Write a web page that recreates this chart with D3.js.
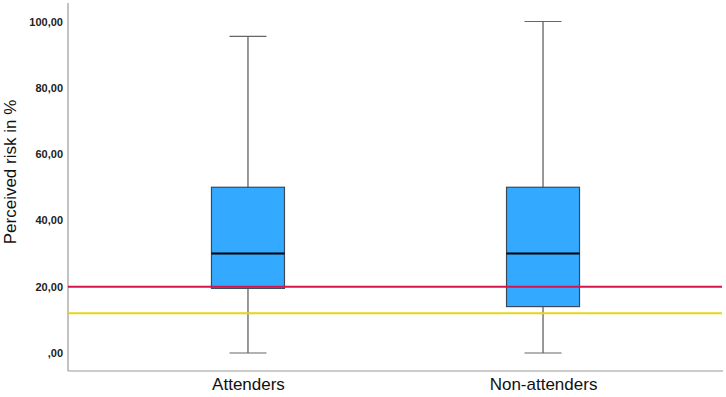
<!DOCTYPE html>
<html>
<head>
<meta charset="utf-8">
<script src="https://cdn.jsdelivr.net/npm/d3@7"></script>
<style>
  body { margin: 0; background: #fff; }
  svg { display: block; }
</style>
</head>
<body>
<div id="chart"></div>
<script>
'use strict'

// data
const groups = ['Attenders', 'Non-attenders']
const whiskerLow = [0, 0]
const boxLow = [19.5, 14]
const medians = [30, 30]
const boxHigh = [50, 50]
const whiskerHigh = [95.5, 100]
const refLines = [20, 12]
const refColors = ['#d4144b', '#e6d41c']
const yTicks = [0, 20, 40, 60, 80, 100]

const svgWidth = 726
const svgHeight = 397
const margin = { left: 68, right: 3, top: 3, bottom: 26 }

const svg = d3.select('#chart').append('svg')
    .attr('width', svgWidth)
    .attr('height', svgHeight)

// scales
const y = d3.scaleLinear().domain([0, 100]).range([353, 21.5])
const x = d3.scalePoint().domain(groups)
    .range([margin.left, svgWidth - margin.right]).padding(0.61)

const boxW = 73
const capW = 37
const fmt = v => d3.format('.2f')(v).replace('.', ',').replace(/^0,/, ',')

// axes
const yAxis = svg.append('g')
    .attr('transform', `translate(${margin.left},0)`)
    .call(d3.axisLeft(y).tickValues(yTicks).tickSize(0).tickPadding(5).tickFormat(fmt))
yAxis.select('.domain').remove()
yAxis.selectAll('text')
    .attr('font-family', 'Liberation Sans, Arial, sans-serif')
    .attr('font-size', 11)
    .attr('font-weight', 'bold')
    .attr('fill', '#222')

const xAxis = svg.append('g')
    .attr('transform', `translate(0,${svgHeight - margin.bottom})`)
    .call(d3.axisBottom(x).tickSize(0).tickPadding(7))
xAxis.select('.domain').remove()
xAxis.selectAll('text')
    .attr('font-family', 'Liberation Sans, Arial, sans-serif')
    .attr('font-size', 17)
    .attr('fill', '#111')

// axis lines
svg.append('line')
    .attr('x1', margin.left).attr('x2', margin.left)
    .attr('y1', margin.top).attr('y2', svgHeight - margin.bottom)
    .attr('stroke', '#999').attr('stroke-width', 1.2)
svg.append('line')
    .attr('x1', margin.left).attr('x2', svgWidth - margin.right)
    .attr('y1', svgHeight - margin.bottom).attr('y2', svgHeight - margin.bottom)
    .attr('stroke', '#999').attr('stroke-width', 1.2)

// y title
svg.append('text')
    .attr('transform', `translate(16,${172}) rotate(-90)`)
    .attr('text-anchor', 'middle')
    .attr('font-family', 'Liberation Sans, Arial, sans-serif')
    .attr('font-size', 17)
    .attr('fill', '#111')
    .text('Perceived risk in %')

// boxes
const boxes = svg.append('g').selectAll('g')
    .data(groups)
    .join('g')

boxes.append('line')
    .attr('x1', d => x(d)).attr('x2', d => x(d))
    .attr('y1', (d, i) => y(whiskerLow[i])).attr('y2', (d, i) => y(whiskerHigh[i]))
    .attr('stroke', '#555').attr('stroke-width', 1.2)

boxes.selectAll('.cap')
    .data((d, i) => [whiskerLow[i], whiskerHigh[i]].map(v => ({ g: d, v })))
    .join('line')
    .attr('class', 'cap')
    .attr('x1', d => x(d.g) - capW / 2).attr('x2', d => x(d.g) + capW / 2)
    .attr('y1', d => y(d.v)).attr('y2', d => y(d.v))
    .attr('stroke', '#666').attr('stroke-width', 1.2)

boxes.append('rect')
    .attr('x', d => x(d) - boxW / 2)
    .attr('width', boxW)
    .attr('y', (d, i) => y(boxHigh[i]))
    .attr('height', (d, i) => y(boxLow[i]) - y(boxHigh[i]))
    .attr('fill', '#33aaff')
    .attr('stroke', '#3a4a58').attr('stroke-width', 1.2)

boxes.append('line')
    .attr('x1', d => x(d) - boxW / 2).attr('x2', d => x(d) + boxW / 2)
    .attr('y1', (d, i) => y(medians[i])).attr('y2', (d, i) => y(medians[i]))
    .attr('stroke', '#000').attr('stroke-width', 2)

// reference lines
svg.append('g').selectAll('line')
    .data(refLines)
    .join('line')
    .attr('x1', margin.left).attr('x2', svgWidth - margin.right - 1)
    .attr('y1', d => y(d)).attr('y2', d => y(d))
    .attr('stroke', (d, i) => refColors[i])
    .attr('stroke-width', 2)
</script>
</body>
</html>
